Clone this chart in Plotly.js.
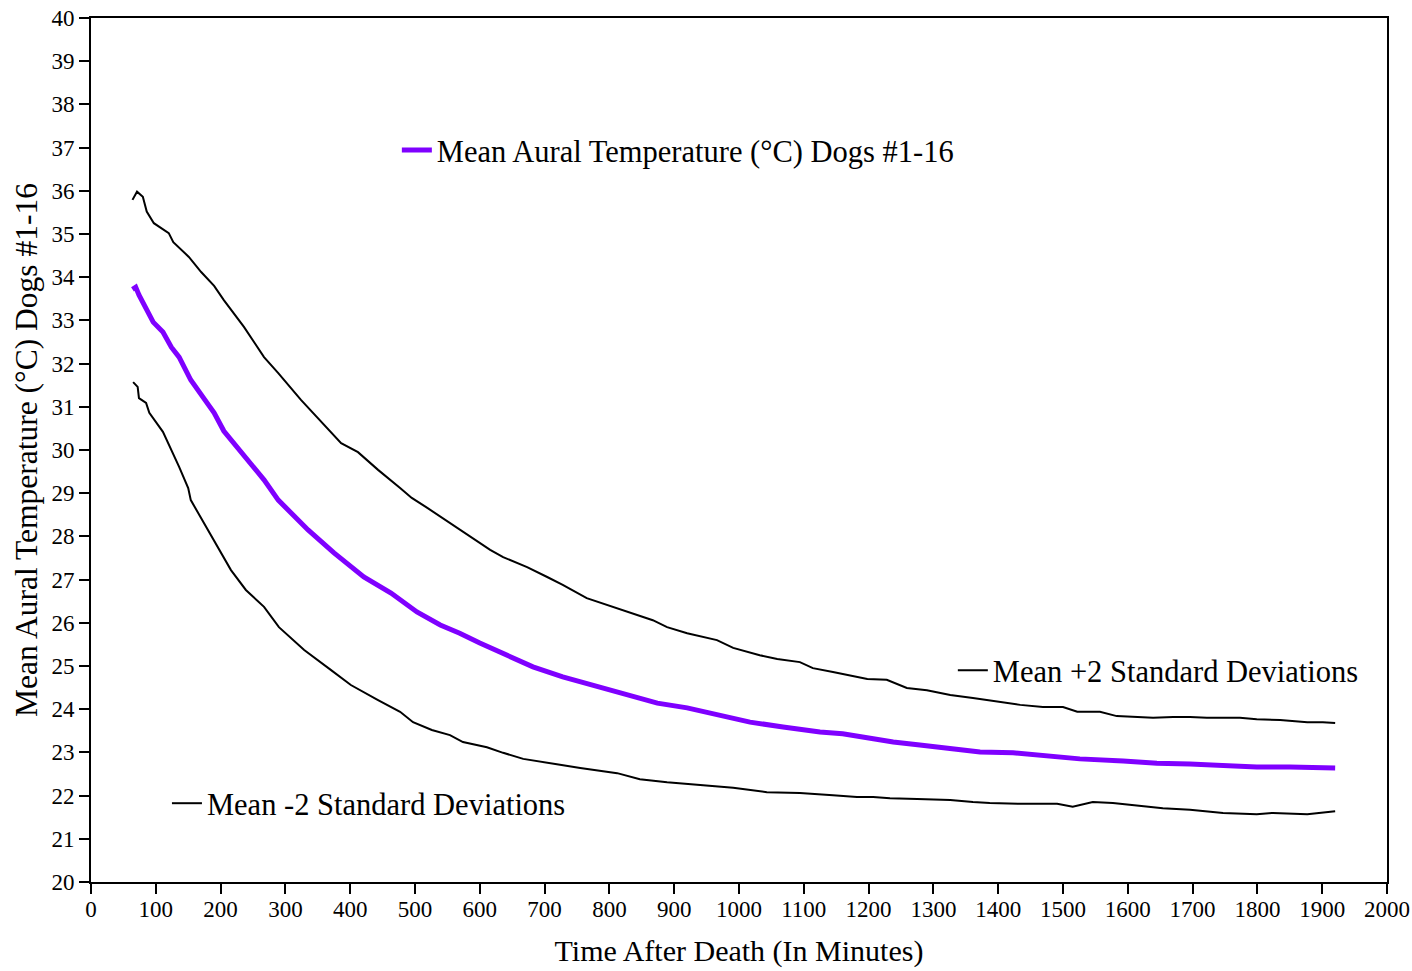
<!DOCTYPE html>
<html>
<head>
<meta charset="utf-8">
<script src="https://cdn.plot.ly/plotly-3.0.1.min.js"></script>
<style>html,body{margin:0;padding:0;background:#fff;}#chart{width:1412px;height:971px;}</style>
</head>
<body>
<div id="chart"></div>
<script>
// Time after death (minutes) and temperatures (°C)
const meanX = [64, 69, 74, 96, 111, 124, 136, 154, 181, 190, 205, 232, 242, 258, 267, 289, 304, 335, 375, 421, 463, 477, 503, 539, 569, 600, 642, 682, 728, 775, 827, 874, 920, 971, 1017, 1068, 1125, 1160, 1198, 1238, 1279, 1326, 1372, 1423, 1475, 1526, 1593, 1645, 1696, 1747, 1799, 1850, 1920];
const meanY = [33.72, 33.77, 33.59, 32.96, 32.73, 32.38, 32.15, 31.62, 31.05, 30.86, 30.44, 29.93, 29.77, 29.47, 29.31, 28.84, 28.62, 28.15, 27.62, 27.06, 26.69, 26.53, 26.25, 25.95, 25.76, 25.53, 25.25, 24.98, 24.75, 24.56, 24.33, 24.14, 24.03, 23.87, 23.70, 23.59, 23.47, 23.43, 23.33, 23.24, 23.17, 23.10, 23.01, 22.99, 22.92, 22.85, 22.80, 22.75, 22.73, 22.69, 22.66, 22.66, 22.64];

const upperX = [64, 71, 80, 86, 97, 120, 127, 151, 170, 190, 205, 236, 267, 289, 324, 360, 386, 412, 443, 477, 495, 519, 554, 588, 616, 636, 673, 704, 728, 765, 796, 832, 867, 889, 920, 966, 991, 1032, 1059, 1094, 1114, 1145, 1176, 1198, 1228, 1259, 1290, 1326, 1361, 1392, 1434, 1469, 1500, 1522, 1557, 1583, 1619, 1639, 1670, 1696, 1722, 1773, 1799, 1835, 1877, 1901, 1920];
const upperY = [35.79, 35.98, 35.86, 35.52, 35.25, 35.02, 34.81, 34.47, 34.12, 33.80, 33.47, 32.85, 32.15, 31.78, 31.16, 30.58, 30.16, 29.95, 29.54, 29.12, 28.89, 28.66, 28.31, 27.99, 27.69, 27.52, 27.29, 27.06, 26.88, 26.57, 26.41, 26.23, 26.06, 25.90, 25.76, 25.60, 25.42, 25.25, 25.16, 25.09, 24.95, 24.86, 24.77, 24.70, 24.68, 24.49, 24.44, 24.33, 24.26, 24.19, 24.10, 24.05, 24.05, 23.94, 23.94, 23.84, 23.82, 23.80, 23.82, 23.82, 23.80, 23.80, 23.77, 23.75, 23.70, 23.70, 23.68];

const lowerX = [65, 72, 74, 85, 90, 111, 136, 150, 154, 174, 201, 216, 239, 267, 290, 329, 370, 401, 443, 477, 497, 526, 554, 574, 611, 636, 667, 708, 755, 812, 847, 889, 940, 991, 1043, 1094, 1145, 1182, 1207, 1233, 1275, 1326, 1361, 1387, 1438, 1491, 1515, 1546, 1577, 1619, 1654, 1696, 1747, 1799, 1824, 1877, 1901, 1920];
const lowerY = [31.57, 31.46, 31.20, 31.09, 30.86, 30.42, 29.61, 29.12, 28.84, 28.31, 27.62, 27.22, 26.76, 26.37, 25.90, 25.37, 24.91, 24.56, 24.21, 23.94, 23.70, 23.52, 23.40, 23.24, 23.12, 22.99, 22.85, 22.75, 22.64, 22.52, 22.38, 22.31, 22.25, 22.18, 22.08, 22.06, 22.01, 21.97, 21.97, 21.94, 21.92, 21.90, 21.85, 21.83, 21.81, 21.81, 21.74, 21.85, 21.83, 21.76, 21.71, 21.67, 21.60, 21.57, 21.60, 21.57, 21.60, 21.64];

const seriesNames = ['Mean Aural Temperature (°C) Dogs #1-16', 'Mean +2 Standard Deviations', 'Mean -2 Standard Deviations'];
const xTitle = 'Time After Death (In Minutes)';
const yTitle = 'Mean Aural Temperature (°C) Dogs #1-16';

const FONT = 'Liberation Serif, Times New Roman, serif';

const traces = [
  {x: upperX, y: upperY, name: seriesNames[1], mode: 'lines', line: {color: '#000', width: 2}, legend: 'legend2'},
  {x: lowerX, y: lowerY, name: seriesNames[2], mode: 'lines', line: {color: '#000', width: 2}, legend: 'legend3'},
  {x: meanX, y: meanY, name: seriesNames[0], mode: 'lines', line: {color: '#7F00FF', width: 5}, legend: 'legend'}
];

const legendBase = {xanchor: 'left', yanchor: 'middle', bgcolor: 'rgba(0,0,0,0)', borderwidth: 0,
  font: {family: FONT, size: 30.5, color: '#000'}, itemclick: false};

const axisBase = {showgrid: false, zeroline: false, showline: true, linecolor: '#000', linewidth: 2,
  mirror: true, ticks: 'outside', ticklen: 10, tickwidth: 2, tickcolor: '#000',
  tickfont: {family: FONT, size: 23, color: '#000'}};

const layout = {
  width: 1412, height: 971,
  margin: {l: 91, r: 25, t: 18, b: 89},
  paper_bgcolor: '#fff', plot_bgcolor: '#fff',
  font: {family: FONT, color: '#000'},
  showlegend: true,
  xaxis: Object.assign({}, axisBase, {range: [0, 2000], dtick: 100, tick0: 0, ticklabelstandoff: -5,
    title: {text: xTitle, font: {family: FONT, size: 30, color: '#000'}, standoff: 19}}),
  yaxis: Object.assign({}, axisBase, {range: [20, 40], dtick: 1, tick0: 20,
    title: {text: yTitle, font: {family: FONT, size: 31.5, color: '#000'}, standoff: 4}}),
  legend: Object.assign({}, legendBase, {x: 0.236, y: 0.847}),
  legend2: Object.assign({}, legendBase, {x: 0.665, y: 0.245}),
  legend3: Object.assign({}, legendBase, {x: 0.0586, y: 0.091})
};

Plotly.newPlot('chart', traces, layout, {displayModeBar: false, staticPlot: true});
</script>
</body>
</html>
